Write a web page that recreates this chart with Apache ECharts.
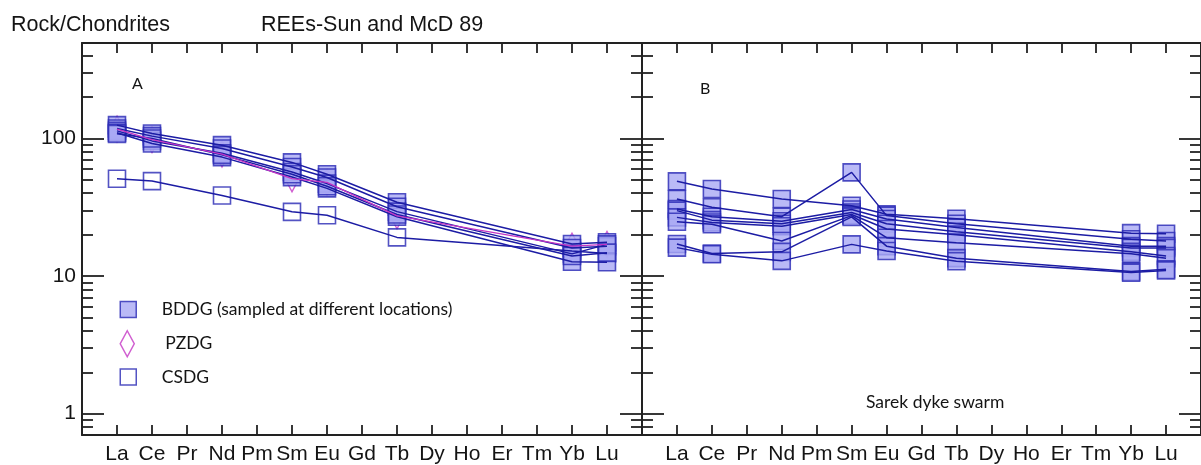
<!DOCTYPE html>
<html>
<head>
<meta charset="utf-8">
<script src="https://cdn.jsdelivr.net/npm/echarts@6/dist/echarts.min.js"></script>
<style>
  html, body { margin: 0; padding: 0; background: #ffffff; }
  #chart { width: 1201px; height: 465px; }
</style>
</head>
<body>
<div id="chart"></div>
<script>
// Rare earth elements along the x axis (positions 1..15)
const ELEMENTS = ['La', 'Ce', 'Pr', 'Nd', 'Pm', 'Sm', 'Eu', 'Gd', 'Tb', 'Dy', 'Ho', 'Er', 'Tm', 'Yb', 'Lu'];
// Elements actually analysed in every sample
const ANALYSED = ['La', 'Ce', 'Nd', 'Sm', 'Eu', 'Tb', 'Yb', 'Lu'];

// Log-axis tick values
const Y_MAJOR = [1, 10, 100];
const Y_MINOR = [0.8, 0.9, 2, 3, 4, 5, 6, 7, 8, 9, 20, 30, 40, 50, 60, 70, 80, 90, 200, 300, 400];

// Panel A: chondrite-normalised REE, BDDG samples
const BDDG_1 = [125, 108.7, 89.4, 67, 55, 34.4, 17.1, 17.6];
const BDDG_2 = [118, 104, 84.6, 62, 52, 31.9, 16, 16.5];
const BDDG_3 = [113.5, 96, 78, 57, 47, 29.4, 14.5, 17];
const BDDG_4 = [110, 92, 73.2, 52.4, 43.4, 27, 12.7, 12.6];
const BDDG_5 = [108, 100, 76, 55, 45, 28, 14, 14.8];
// Panel A: PZDG and CSDG
const PZDG_1 = [117, 98, 77, 51, 48, 27.4, 16.5, 17];
const CSDG_1 = [51, 49, 38.5, 29.3, 27.7, 19.1, 15.2, 14.6];

// Panel B: Sarek dyke swarm samples
const SAREK_1 = [48.8, 42.9, 36.3, 32.4, 28.1, 26.1, 20.5, 20.3];
const SAREK_2 = [36.3, 31.6, 27, 56.7, 27.5, 24, 18.5, 18];
const SAREK_3 = [30.7, 27, 25, 30.5, 26, 22.5, 16.5, 16.5];
const SAREK_4 = [29.9, 25.5, 24, 29, 24, 21, 16, 16];
const SAREK_5 = [26.7, 24.5, 23, 28, 22, 20, 15, 14];
const SAREK_6 = [24.8, 23.8, 18, 27.5, 19, 17.5, 14.5, 13.5];
const SAREK_7 = [17.1, 14.6, 15, 26.9, 16.5, 13.5, 10.8, 11.2];
const SAREK_8 = [16.1, 14.4, 12.9, 17, 15.2, 12.8, 10.6, 11];

const BDDG_SET = [BDDG_1, BDDG_2, BDDG_3, BDDG_4, BDDG_5];
const SAREK_SET = [SAREK_1, SAREK_2, SAREK_3, SAREK_4, SAREK_5, SAREK_6, SAREK_7, SAREK_8];

const NAME_BDDG = 'BDDG (sampled at different locations)';
const NAME_PZDG = ' PZDG';
const NAME_CSDG = 'CSDG';

// Styles
const FRAME = '#222222';
const LINE_BLUE = '#1c1ca4';
const EDGE_BLUE = '#2828b4';
const FILL_BLUE = '#a9a9f4';
const MAGENTA = '#c436c4';
const TEXT = '#141414';
const AXIS_FONT = 'Liberation Sans';
const NOTE_FONT = 'Lato';

const X_TICKS = ELEMENTS.map((_, i) => i + 1);

function toPoints(values) {
  return values.map((v, i) => [ELEMENTS.indexOf(ANALYSED[i]) + 1, v]);
}
function flatPoints(sets) {
  return sets.reduce((acc, s) => acc.concat(toPoints(s)), []);
}

function xAxis(grid, position, withLabels) {
  return {
    type: 'value', gridIndex: grid, position: position, min: 0, max: 16, interval: 1,
    axisLine: { show: true, onZero: false, lineStyle: { color: FRAME, width: 2 } },
    axisTick: { show: true, inside: true, length: 10, customValues: X_TICKS,
      lineStyle: { color: FRAME, width: 1.8 } },
    axisLabel: { show: withLabels, customValues: X_TICKS, formatter: v => ELEMENTS[v - 1],
      margin: 9, fontFamily: AXIS_FONT, fontSize: 21, lineHeight: 21, color: TEXT },
    splitLine: { show: false }
  };
}

function yAxis(grid, position, ticks, len, withLine, withLabels) {
  return {
    type: 'log', logBase: 10, gridIndex: grid, position: position, min: 0.7, max: 494,
    axisLine: { show: withLine, onZero: false, lineStyle: { color: FRAME, width: 2 } },
    axisTick: { show: true, inside: true, length: len, customValues: ticks,
      lineStyle: { color: FRAME, width: 1.8 } },
    axisLabel: { show: withLabels, customValues: Y_MAJOR, formatter: v => String(v),
      margin: 6, padding: [5, 0, 0, 0], fontFamily: AXIS_FONT, fontSize: 21, lineHeight: 21, color: TEXT },
    splitLine: { show: false },
    minorTick: { show: false }
  };
}

function lineSeries(xi, yi, values, color, width) {
  return {
    type: 'line', xAxisIndex: xi, yAxisIndex: yi, data: toPoints(values),
    symbol: 'none', silent: true, animation: false,
    lineStyle: { color: color, width: width }
  };
}

const series = [];
// Panel A lines
BDDG_SET.forEach(s => series.push(lineSeries(0, 0, s, LINE_BLUE, 1.5)));
series.push(lineSeries(0, 0, CSDG_1, LINE_BLUE, 1.5));
series.push(lineSeries(0, 0, PZDG_1, MAGENTA, 1.3));
// Panel A markers (diamonds beneath squares)
series.push({
  type: 'scatter', name: NAME_PZDG, xAxisIndex: 0, yAxisIndex: 0, data: toPoints(PZDG_1),
  symbol: 'diamond', symbolSize: [14, 26], silent: true, animation: false,
  itemStyle: { color: 'rgba(255,255,255,0)', borderColor: MAGENTA, borderWidth: 1.5 }
});
series.push({
  type: 'scatter', name: NAME_CSDG, xAxisIndex: 0, yAxisIndex: 0, data: toPoints(CSDG_1),
  symbol: 'rect', symbolSize: 17, silent: true, animation: false,
  itemStyle: { color: 'rgba(255,255,255,0)', borderColor: EDGE_BLUE, borderWidth: 1.6 }
});
series.push({
  type: 'scatter', name: NAME_BDDG, xAxisIndex: 0, yAxisIndex: 0, data: flatPoints(BDDG_SET),
  symbol: 'rect', symbolSize: 17, silent: true, animation: false,
  itemStyle: { color: FILL_BLUE, borderColor: EDGE_BLUE, borderWidth: 1.6 }
});
// Panel B lines and markers
SAREK_SET.forEach(s => series.push(lineSeries(2, 4, s, LINE_BLUE, 1.5)));
series.push({
  type: 'scatter', name: 'Sarek dyke swarm', xAxisIndex: 2, yAxisIndex: 4, data: flatPoints(SAREK_SET),
  symbol: 'rect', symbolSize: 17, silent: true, animation: false,
  itemStyle: { color: FILL_BLUE, borderColor: EDGE_BLUE, borderWidth: 1.6 }
});

function legendBlock(name, icon, top, h, style) {
  return {
    data: [{ name: name, icon: icon, itemStyle: style }],
    left: 119.5, top: top, itemWidth: 57, itemHeight: h, padding: 0,
    selectedMode: false, symbolKeepAspect: true,
    textStyle: { fontFamily: NOTE_FONT, fontSize: 17.5, color: TEXT }
  };
}

function note(text, x, y, font) {
  return { type: 'text', x: x, y: y, silent: true,
    style: { text: text, font: font, fill: TEXT, align: 'left', verticalAlign: 'middle' } };
}

const chart = echarts.init(document.getElementById('chart'), null, { renderer: 'canvas' });
chart.setOption({
  animation: false,
  backgroundColor: '#ffffff',
  grid: [
    { left: 82, top: 43, width: 560, height: 392 },
    { left: 642, top: 43, width: 561, height: 392 }
  ],
  xAxis: [
    xAxis(0, 'bottom', true), xAxis(0, 'top', false),
    xAxis(1, 'bottom', true), xAxis(1, 'top', false)
  ],
  yAxis: [
    yAxis(0, 'left', Y_MAJOR, 22, true, true), yAxis(0, 'left', Y_MINOR, 11, false, false),
    yAxis(0, 'right', Y_MAJOR, 22, true, false), yAxis(0, 'right', Y_MINOR, 11, false, false),
    yAxis(1, 'left', Y_MAJOR, 22, true, false), yAxis(1, 'left', Y_MINOR, 11, false, false),
    yAxis(1, 'right', Y_MAJOR, 22, true, false), yAxis(1, 'right', Y_MINOR, 11, false, false)
  ],
  legend: [
    legendBlock(NAME_BDDG, 'path://M0,0H16V16H0Z', 300.5, 16,
      { color: FILL_BLUE, borderColor: EDGE_BLUE, borderWidth: 1.5 }),
    legendBlock(NAME_PZDG, 'path://M7,0L14,13L7,26L0,13Z', 330, 26,
      { color: 'rgba(255,255,255,0)', borderColor: MAGENTA, borderWidth: 1.5 }),
    legendBlock(NAME_CSDG, 'path://M0,0H16V16H0Z', 368, 16,
      { color: 'rgba(255,255,255,0)', borderColor: EDGE_BLUE, borderWidth: 1.5 })
  ],
  graphic: [
    note('Rock/Chondrites', 11, 25, '21.5px "Liberation Sans"'),
    note('REEs-Sun and McD 89', 261, 25, '21.5px "Liberation Sans"'),
    note('A', 132, 84, '16px Lato'),
    note('B', 700, 89, '16px Lato'),
    note('Sarek dyke swarm', 866, 402, '17.5px Lato')
  ],
  series: series
});
</script>
</body>
</html>
